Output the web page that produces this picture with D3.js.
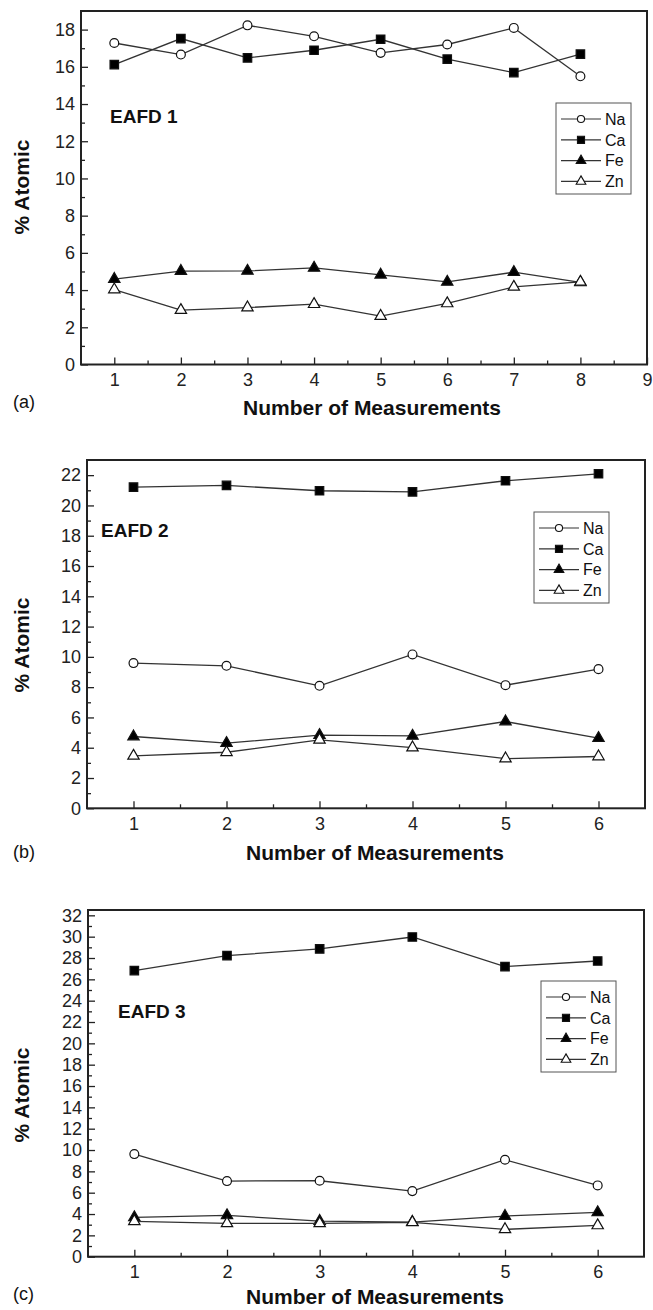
<!DOCTYPE html>
<html>
<head>
<meta charset="utf-8">
<script src="https://cdn.jsdelivr.net/npm/d3@7"></script>
<style>
  body { margin: 0; background: #fff; }
  svg { display: block; font-family: "Liberation Sans", Arial, sans-serif; }
  .tick text { font-size: 18px; fill: #222; }
  .tick line { stroke: #222; stroke-width: 1.3; }
</style>
</head>
<body>
<div id="vis"></div>
<script>
/* chart values */
const elements = ['Na', 'Ca', 'Fe', 'Zn'];

const runs1 = [1, 2, 3, 4, 5, 6, 7, 8];
const eafd1Na = [17.28, 16.66, 18.23, 17.64, 16.75, 17.2, 18.09, 15.49];
const eafd1Ca = [16.12, 17.52, 16.48, 16.89, 17.48, 16.41, 15.69, 16.68];
const eafd1Fe = [4.59, 5.02, 5.03, 5.19, 4.82, 4.44, 4.96, 4.41];
const eafd1Zn = [4.03, 2.92, 3.06, 3.24, 2.6, 3.28, 4.17, 4.44];
const xTicks1 = [1, 2, 3, 4, 5, 6, 7, 8, 9];
const yTicks1 = [0, 2, 4, 6, 8, 10, 12, 14, 16, 18];

const runs2 = [1, 2, 3, 4, 5, 6];
const eafd2Na = [9.59, 9.41, 8.09, 10.16, 8.13, 9.19];
const eafd2Ca = [21.21, 21.32, 20.97, 20.9, 21.63, 22.09];
const eafd2Fe = [4.74, 4.3, 4.83, 4.78, 5.73, 4.63];
const eafd2Zn = [3.46, 3.7, 4.52, 4.01, 3.28, 3.42];
const xTicks2 = [1, 2, 3, 4, 5, 6];
const yTicks2 = [0, 2, 4, 6, 8, 10, 12, 14, 16, 18, 20, 22];

const runs3 = [1, 2, 3, 4, 5, 6];
const eafd3Na = [9.62, 7.09, 7.12, 6.15, 9.09, 6.68];
const eafd3Ca = [26.82, 28.22, 28.85, 29.97, 27.19, 27.72];
const eafd3Fe = [3.68, 3.87, 3.34, 3.25, 3.81, 4.15];
const eafd3Zn = [3.31, 3.12, 3.12, 3.22, 2.56, 2.93];
const xTicks3 = [1, 2, 3, 4, 5, 6];
const yTicks3 = [0, 2, 4, 6, 8, 10, 12, 14, 16, 18, 20, 22, 24, 26, 28, 30, 32];

/* marker look per element */
const markerStyle = {
  Na: { type: d3.symbolCircle, size: 62, legendSize: 40, fill: '#fff' },
  Ca: { type: d3.symbolSquare, size: 72, legendSize: 50, fill: '#000' },
  Fe: { type: d3.symbolTriangle, size: 56, legendSize: 40, fill: '#000' },
  Zn: { type: d3.symbolTriangle, size: 56, legendSize: 40, fill: '#fff' },
};

const svg = d3.select('#vis').append('svg')
  .attr('width', 653)
  .attr('height', 1310);

class LinePanel {
  constructor(_config, _runs, _series) {
    this.config = _config;
    this.runs = _runs;
    this.series = _series;
    this.initVis();
  }

  initVis() {
    const vis = this;
    const c = vis.config;

    vis.x = d3.scaleLinear().domain(c.xDomain).range([c.left, c.right]);
    vis.y = d3.scaleLinear().domain(c.yDomain).range([c.bottom, c.top]);

    vis.g = svg.append('g');

    /* minor ticks first, major ticks over them (all inward) */
    const xMinor = d3.range(c.xDomain[0] + 1, c.xDomain[1], 1);
    const yMinor = d3.range(1, c.yDomain[1], 2);

    vis.g.append('g')
      .attr('transform', `translate(0,${c.bottom})`)
      .call(d3.axisBottom(vis.x).tickValues(xMinor).tickSize(-4).tickSizeOuter(0).tickFormat(''))
      .call((g) => g.select('.domain').remove());
    vis.g.append('g')
      .attr('transform', `translate(0,${c.bottom})`)
      .call(d3.axisBottom(vis.x).tickValues(c.xTicks).tickSize(-7).tickSizeOuter(0)
        .tickPadding(9).tickFormat(d3.format('d')))
      .call((g) => g.select('.domain').remove());

    vis.g.append('g')
      .attr('transform', `translate(${c.left},0)`)
      .call(d3.axisLeft(vis.y).tickValues(yMinor).tickSize(-4).tickSizeOuter(0).tickFormat(''))
      .call((g) => g.select('.domain').remove());
    vis.g.append('g')
      .attr('transform', `translate(${c.left},0)`)
      .call(d3.axisLeft(vis.y).tickValues(c.yTicks).tickSize(-7).tickSizeOuter(0)
        .tickPadding(6).tickFormat(d3.format('d')))
      .call((g) => g.select('.domain').remove());

    vis.g.selectAll('.tick text').attr('font-family', null);

    /* frame */
    vis.g.append('rect')
      .attr('x', c.left)
      .attr('y', c.top)
      .attr('width', c.right - c.left)
      .attr('height', c.bottom - c.top)
      .attr('fill', 'none')
      .attr('stroke', '#222')
      .attr('stroke-width', 2);

    vis.renderVis();
    vis.renderLabels();
    vis.renderLegend();
  }

  renderVis() {
    const vis = this;
    const line = d3.line()
      .x((d) => vis.x(d[0]))
      .y((d) => vis.y(d[1]));

    elements.forEach((el) => {
      const pts = vis.runs.map((r, i) => [r, vis.series[el][i]]);
      const st = markerStyle[el];

      vis.g.append('path')
        .datum(pts)
        .attr('d', line)
        .attr('fill', 'none')
        .attr('stroke', '#333')
        .attr('stroke-width', 1.3);

      vis.g.selectAll(`.pt-${el}`)
        .data(pts)
        .join('path')
        .attr('class', `pt-${el}`)
        .attr('transform', (d) => `translate(${vis.x(d[0])},${vis.y(d[1])})`)
        .attr('d', d3.symbol().type(st.type).size(st.size))
        .attr('fill', st.fill)
        .attr('stroke', '#111')
        .attr('stroke-width', 1.2);
    });
  }

  renderLabels() {
    const vis = this;
    const c = vis.config;

    vis.g.append('text')
      .attr('x', c.titleX)
      .attr('y', c.titleY)
      .attr('font-size', 19)
      .attr('font-weight', 'bold')
      .attr('fill', '#111')
      .text(c.title);

    vis.g.append('text')
      .attr('x', c.xLabelX)
      .attr('y', c.xLabelY)
      .attr('text-anchor', 'middle')
      .attr('font-size', 21)
      .attr('font-weight', 'bold')
      .attr('fill', '#111')
      .text('Number of Measurements');

    vis.g.append('text')
      .attr('transform', `translate(29,${c.yLabelY}) rotate(-90)`)
      .attr('text-anchor', 'middle')
      .attr('font-size', 21)
      .attr('font-weight', 'bold')
      .attr('fill', '#111')
      .text('% Atomic');

    vis.g.append('text')
      .attr('x', 13)
      .attr('y', c.tagY)
      .attr('font-size', 18)
      .attr('fill', '#111')
      .text(c.tag);
  }

  renderLegend() {
    const vis = this;
    const c = vis.config;
    const lg = vis.g.append('g').attr('transform', `translate(${c.legendX},${c.legendY})`);

    lg.append('rect')
      .attr('width', 75)
      .attr('height', 91)
      .attr('fill', '#fff')
      .attr('stroke', '#555')
      .attr('stroke-width', 1);

    const rows = lg.selectAll('.legend-row')
      .data(elements)
      .join('g')
      .attr('class', 'legend-row')
      .attr('transform', (d, i) => `translate(0,${16 + i * 20.8})`);

    rows.append('line')
      .attr('x1', 5)
      .attr('x2', 45)
      .attr('stroke', '#333')
      .attr('stroke-width', 1.2);

    rows.append('path')
      .attr('transform', 'translate(25,0)')
      .attr('d', (d) => d3.symbol().type(markerStyle[d].type).size(markerStyle[d].legendSize)())
      .attr('fill', (d) => markerStyle[d].fill)
      .attr('stroke', '#111')
      .attr('stroke-width', 1.1);

    rows.append('text')
      .attr('x', 49)
      .attr('dy', '0.36em')
      .attr('font-size', 16)
      .attr('fill', '#111')
      .text((d) => d);
  }
}

new LinePanel({
  left: 81, right: 647, top: 11, bottom: 364.5,
  xDomain: [0.5, 9], yDomain: [0, 19], xTicks: xTicks1, yTicks: yTicks1,
  title: 'EAFD 1', titleX: 110, titleY: 123,
  legendX: 556, legendY: 103,
  xLabelX: 372, xLabelY: 415, yLabelY: 187, tag: '(a)', tagY: 408,
}, runs1, { Na: eafd1Na, Ca: eafd1Ca, Fe: eafd1Fe, Zn: eafd1Zn });

new LinePanel({
  left: 87, right: 645, top: 460, bottom: 808.3,
  xDomain: [0.5, 6.5], yDomain: [0, 23], xTicks: xTicks2, yTicks: yTicks2,
  title: 'EAFD 2', titleX: 101, titleY: 537,
  legendX: 534, legendY: 512,
  xLabelX: 375, xLabelY: 860, yLabelY: 645, tag: '(b)', tagY: 858,
}, runs2, { Na: eafd2Na, Ca: eafd2Ca, Fe: eafd2Fe, Zn: eafd2Zn });

new LinePanel({
  left: 88, right: 644, top: 910, bottom: 1256.7,
  xDomain: [0.5, 6.5], yDomain: [0, 32.5], xTicks: xTicks3, yTicks: yTicks3,
  title: 'EAFD 3', titleX: 118, titleY: 1018,
  legendX: 541, legendY: 981,
  xLabelX: 375, xLabelY: 1304, yLabelY: 1095, tag: '(c)', tagY: 1300,
}, runs3, { Na: eafd3Na, Ca: eafd3Ca, Fe: eafd3Fe, Zn: eafd3Zn });
</script>
</body>
</html>
